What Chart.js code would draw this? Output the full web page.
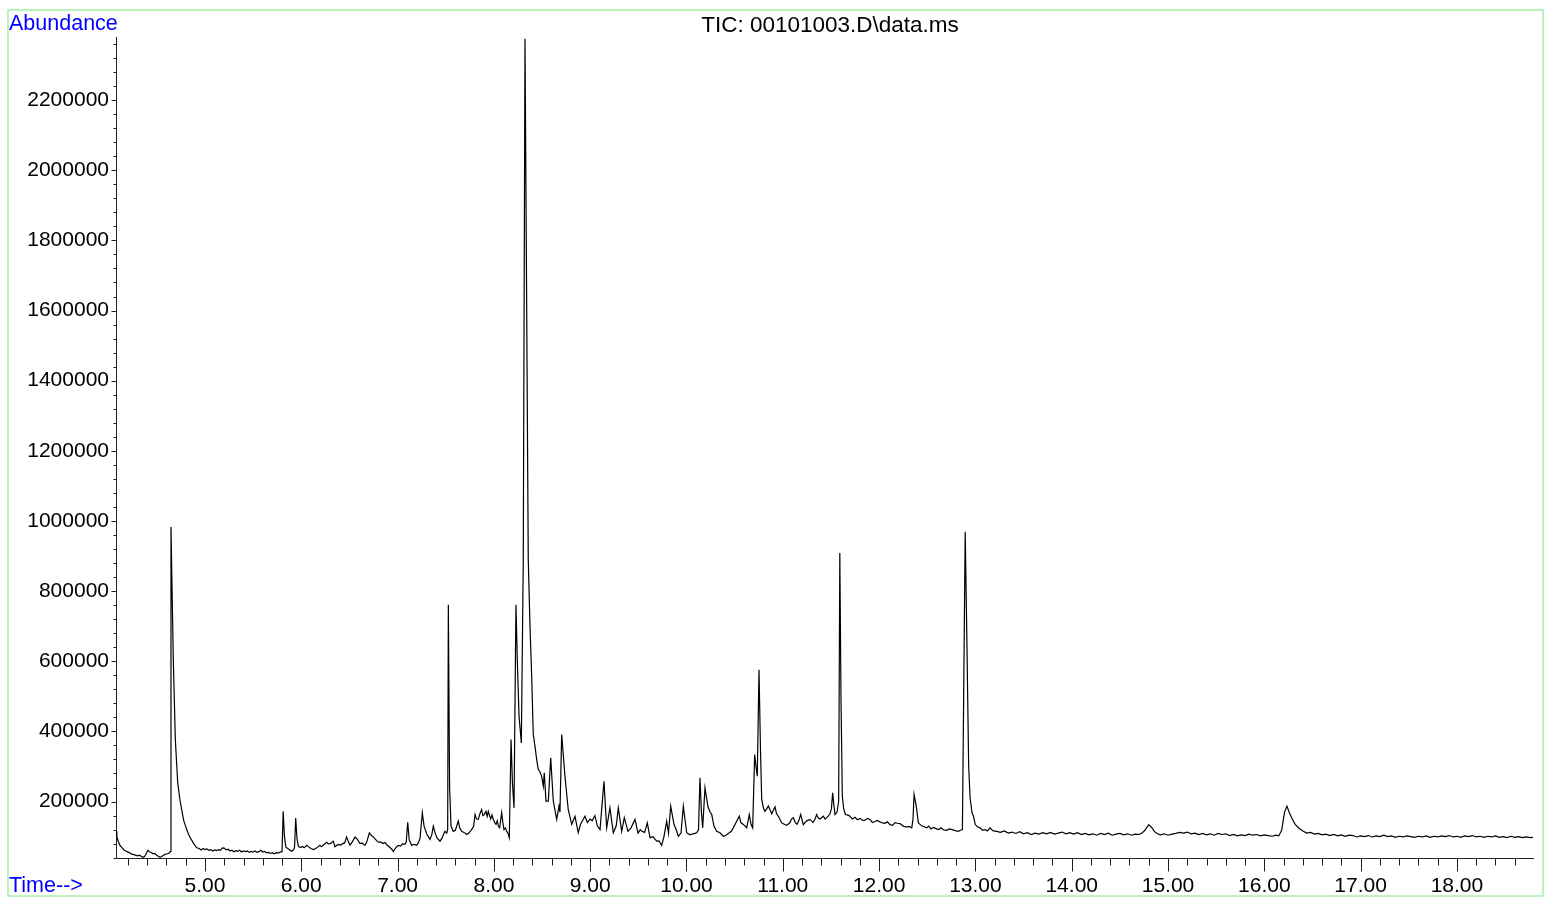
<!DOCTYPE html>
<html>
<head>
<meta charset="utf-8">
<script src="https://cdn.jsdelivr.net/npm/chart.js@4.4.1/dist/chart.umd.min.js"></script>
<style>
html,body{margin:0;padding:0;background:#fff;}
#wrap{position:relative;width:1551px;height:898px;}
</style>
</head>
<body>
<div id="wrap"><canvas id="c" width="1551" height="898"></canvas></div>
<script>
// ---- data (retention time in minutes, abundance) ----
const times = [
4.076,4.085,4.100,4.117,4.14,4.16,4.19,4.21,4.24,4.27,4.30,4.32,4.34,4.356,4.375,4.39,4.408,4.425,4.44,4.46,4.48,4.50,4.515,4.533,4.55,4.57,4.59,4.61,4.630,4.640,
4.647,4.654,4.671,4.692,4.717,4.74,4.758,4.78,4.810,4.84,4.878,4.914,4.94,
4.96,4.98,5.00,5.02,5.04,5.06,5.08,5.10,5.12,5.14,5.16,5.18,5.20,5.22,5.24,5.26,5.28,5.30,5.32,5.34,5.36,5.38,5.40,5.42,5.44,5.46,5.48,5.50,5.52,5.54,5.56,5.58,5.60,5.62,5.64,5.66,5.68,5.70,5.72,5.74,5.76,5.78,5.80,
5.812,5.825,5.84,5.86,5.88,5.90,5.92,5.930,5.942,5.955,5.97,5.99,
6.01,6.03,6.056,6.08,6.10,6.125,6.15,6.17,6.194,6.21,6.23,6.264,6.28,6.30,6.332,6.35,6.37,6.39,6.41,6.43,6.45,6.471,6.49,6.506,6.53,6.558,6.58,6.61,6.63,6.662,6.68,6.707,6.725,6.748,6.77,6.80,6.82,6.851,6.87,6.89,6.921,6.94,6.956,6.97,6.99,
7.01,7.03,7.05,7.077,7.09,7.105,7.12,7.146,7.17,7.198,7.215,7.233,7.257,7.275,7.302,7.32,7.336,7.355,7.371,7.39,7.41,7.440,7.46,7.475,7.492,7.510,7.520,7.527,7.540,7.555,7.578,7.60,7.630,7.645,7.665,7.69,7.717,7.74,7.769,7.79,7.804,7.82,7.838,7.855,7.873,7.885,7.897,7.918,7.93,7.942,7.955,7.967,7.98,7.994,
8.008,8.022,8.035,8.046,8.06,8.081,8.093,8.105,8.12,8.133,8.148,8.160,8.178,8.193,8.209,8.229,8.243,8.261,8.271,8.285,8.305,8.323,8.357,8.375,8.392,8.409,8.428,8.444,8.461,8.478,8.496,8.513,8.523,8.541,8.565,8.590,8.617,8.652,8.676,8.686,8.704,8.738,8.772,8.808,8.842,8.876,8.90,8.927,8.946,8.97,8.998,
9.02,9.049,9.075,9.102,9.143,9.171,9.205,9.240,9.27,9.292,9.327,9.354,9.392,9.424,9.465,9.497,9.52,9.538,9.565,9.593,9.621,9.652,9.690,9.714,9.742,9.766,9.794,9.813,9.836,9.870,9.895,9.915,9.943,9.967,
10.002,10.036,10.067,10.106,10.125,10.140,10.155,10.168,10.192,10.223,10.245,10.262,10.285,10.313,10.348,10.382,10.410,10.441,10.465,10.486,10.514,10.548,10.565,10.587,10.610,10.625,10.652,10.670,10.687,10.708,10.722,10.735,10.753,10.768,10.781,10.800,10.815,10.850,10.885,10.919,10.935,10.954,10.989,
11.015,11.041,11.075,11.09,11.109,11.13,11.148,11.165,11.186,11.213,11.230,11.248,11.282,11.314,11.335,11.352,11.370,11.386,11.421,11.44,11.459,11.475,11.490,11.505,11.518,11.530,11.542,11.563,11.580,11.592,11.604,11.618,11.632,11.650,11.67,11.698,11.72,11.750,11.775,11.802,11.83,11.854,11.88,11.906,11.93,11.957,11.98,
12.009,12.035,12.061,12.085,12.113,12.14,12.165,12.19,12.217,12.25,12.287,12.31,12.339,12.352,12.363,12.384,12.408,12.425,12.446,12.47,12.494,12.515,12.539,12.565,12.598,12.62,12.643,12.67,12.702,12.73,12.757,12.79,12.822,12.845,12.865,12.894,12.912,12.930,12.945,12.965,12.980,12.998,
13.02,13.048,13.075,13.100,13.125,13.152,13.18,13.221,13.26,13.30,13.34,13.38,13.42,13.46,13.50,13.54,13.58,13.62,13.66,13.70,13.74,13.78,13.82,13.86,13.90,13.94,13.98,
14.02,14.06,14.10,14.14,14.18,14.22,14.26,14.30,14.34,14.38,14.42,14.46,14.50,14.54,14.58,14.62,14.66,14.70,14.73,14.76,14.80,14.83,14.86,14.89,14.92,14.96,
15.00,15.04,15.08,15.12,15.16,15.20,15.24,15.28,15.32,15.36,15.40,15.44,15.48,15.52,15.56,15.60,15.64,15.68,15.72,15.76,15.80,15.84,15.88,15.92,15.96,
16.00,16.04,16.08,16.12,16.15,16.18,16.21,16.235,16.26,16.29,16.32,16.36,16.40,16.44,16.48,16.52,16.56,16.60,16.64,16.68,16.72,16.76,16.80,16.84,16.88,16.92,16.96,
17.00,17.04,17.08,17.12,17.16,17.20,17.24,17.28,17.32,17.36,17.40,17.44,17.48,17.52,17.56,17.60,17.64,17.68,17.72,17.76,17.80,17.84,17.88,17.92,17.96,
18.00,18.04,18.08,18.12,18.16,18.20,18.24,18.28,18.32,18.36,18.40,18.44,18.48,18.52,18.56,18.60,18.64,18.68,18.72,18.76,18.79
];
const abundance = [
115000,100000,86000,75000,68000,62000,57000,55000,50000,48000,45000,47000,43000,41000,44000,52000,61000,56000,55000,51000,52000,47000,44000,41000,43000,47000,50000,51000,53000,58000,
983000,870000,605000,377000,253000,205000,177000,145000,120000,100000,82000,68000,66000,
62000,66000,63000,65000,61000,63000,59000,62000,60000,63000,61000,68000,67000,62000,64000,59000,61000,57000,60000,58000,61000,56000,59000,57000,59000,55000,58000,56000,59000,55000,57000,61000,56000,58000,54000,55000,52000,54000,51000,54000,53000,56000,57000,
172000,100000,70000,66000,62000,58000,62000,70000,153000,95000,72000,69000,
72000,68000,75000,70000,66000,63000,66000,70000,75000,71000,76000,84000,79000,80000,87000,71000,75000,78000,76000,80000,82000,99000,85000,76000,85000,99000,93000,80000,82000,75000,85000,111000,104000,99000,92000,84000,85000,80000,83000,76000,69000,64000,57000,64000,71000,
75000,73000,79000,78000,85000,141000,92000,75000,78000,75000,82000,95000,168000,130000,108000,100000,92000,105000,130000,110000,96000,87000,95000,105000,115000,110000,120000,761000,240000,130000,115000,118000,144000,125000,115000,112000,106000,110000,120000,130000,163000,150000,149000,165000,177000,160000,162000,172000,158000,172000,160000,150000,162000,149000,
140000,135000,145000,130000,125000,168000,140000,120000,125000,115000,108000,97000,377000,250000,182000,761000,605000,443000,443000,367000,889000,2375000,889000,700000,560000,391000,355000,320000,291000,285000,272000,244000,282000,201000,201000,325000,201000,149000,187000,170000,391000,272000,177000,135000,158000,111000,135000,149000,158000,140000,150000,
145000,160000,130000,120000,258000,125000,182000,111000,130000,182000,115000,154000,115000,125000,149000,110000,120000,115000,112000,139000,97000,100000,87000,88000,75000,100000,144000,110000,187000,135000,118000,101000,110000,187000,
111000,105000,108000,111000,120000,268000,170000,125000,239000,185000,170000,163000,130000,115000,111000,101000,104000,110000,115000,125000,140000,158000,140000,135000,130000,125000,163000,135000,125000,334000,300000,272000,576000,350000,206000,180000,172000,187000,165000,185000,165000,158000,139000,
135000,132000,140000,150000,154000,140000,135000,145000,163000,134000,140000,145000,149000,140000,150000,163000,152000,150000,158000,150000,155000,160000,165000,180000,225000,190000,163000,170000,200000,909000,500000,215000,180000,163000,162000,158000,150000,155000,148000,152000,146000,147000,152000,149000,140000,143000,146000,
142000,139000,138000,142000,134000,132000,140000,138000,137000,130000,127000,129000,125000,150000,220000,190000,139000,135000,130000,128000,125000,130000,122000,126000,122000,120000,125000,119000,118000,122000,120000,117000,115000,118000,120000,969000,650000,300000,210000,168000,158000,135000,
128000,125000,118000,120000,116000,125000,117000,115000,112000,116000,110000,113000,109000,114000,108000,111000,106000,110000,107000,111000,108000,112000,107000,110000,113000,108000,111000,
107000,111000,106000,109000,105000,108000,104000,109000,106000,110000,104000,107000,109000,105000,108000,104000,107000,106000,110000,118000,134000,126000,114000,108000,105000,108000,
104000,107000,109000,112000,110000,113000,108000,110000,106000,109000,105000,108000,104000,109000,106000,108000,103000,106000,102000,105000,103000,107000,104000,106000,102000,
105000,103000,101000,104000,102000,118000,170000,187000,168000,150000,135000,124000,116000,110000,112000,107000,109000,105000,107000,103000,106000,102000,105000,101000,104000,103000,99000,
102000,100000,103000,99000,102000,100000,104000,100000,102000,98000,101000,99000,102000,100000,98000,101000,99000,102000,98000,101000,99000,102000,100000,103000,99000,
101000,98000,102000,100000,103000,99000,101000,98000,101000,99000,102000,98000,100000,97000,101000,98000,100000,97000,99000,97000,98000
];
const xTickLabels = [5,6,7,8,9,10,11,12,13,14,15,16,17,18];
const yTickLabels = [200000,400000,600000,800000,1000000,1200000,1400000,1600000,1800000,2000000,2200000];
const chartTitle = 'TIC: 00101003.D\\data.ms';
const yAxisTitle = 'Abundance';
const xAxisTitle = 'Time-->';

const FONT = '"Liberation Sans", Arial, sans-serif';

const decor = {
  id: 'decor',
  afterDraw(chart) {
    const ctx = chart.ctx;
    const xs = chart.scales.x, ys = chart.scales.y;
    ctx.save();
    // frame
    ctx.strokeStyle = '#a6f0a6';
    ctx.lineWidth = 1.5;
    ctx.strokeRect(8, 10, 1535, 886);
    // ticks
    ctx.strokeStyle = '#222';
    ctx.lineWidth = 1;
    const xb = Math.round(xs.top) + 0.5;
    ctx.beginPath();
    for (let k = 21; k <= 93; k++) {
      const v = k / 5;
      if (v < xs.min || v > xs.max) continue;
      const px = Math.round(xs.getPixelForValue(v)) + 0.5;
      const major = (k % 5 === 0);
      ctx.moveTo(px, xb);
      ctx.lineTo(px, xb + (major ? 13 : 7));
    }
    const yl = Math.round(ys.right) + 0.5;
    for (let k = 1; k <= 59; k++) {
      const v = k * 40000;
      if (v < ys.min || v > ys.max) continue;
      const py = Math.round(ys.getPixelForValue(v)) + 0.5;
      const major = (k % 5 === 0);
      ctx.moveTo(yl, py);
      ctx.lineTo(yl - (major ? 5 : 3), py);
    }
    ctx.stroke();
    // texts
    ctx.font = '21.5px ' + FONT;
    ctx.textBaseline = 'alphabetic';
    ctx.fillStyle = '#0000ff';
    ctx.textAlign = 'left';
    ctx.fillText(yAxisTitle, 9, 29.5);
    ctx.fillText(xAxisTitle, 9, 892);
    ctx.fillStyle = '#000';
    ctx.textAlign = 'center';
    ctx.font = '22.5px ' + FONT;
    ctx.fillText(chartTitle, 830, 31.5);
    ctx.restore();
  }
};

new Chart(document.getElementById('c'), {
  type: 'line',
  data: {
    datasets: [{
      data: times.map((t, i) => ({x: t, y: abundance[i]})),
      borderColor: '#000',
      borderWidth: 1.2,
      pointRadius: 0,
      tension: 0,
      fill: false
    }]
  },
  options: {
    responsive: false,
    animation: false,
    devicePixelRatio: 1,
    parsing: false,
    layout: {padding: {left: 0, right: 18, top: 37, bottom: 0}},
    plugins: {legend: {display: false}, tooltip: {enabled: false}, title: {display: false}},
    scales: {
      x: {
        type: 'linear',
        min: 4.076,
        max: 18.79,
        grid: {display: false, drawTicks: false},
        border: {display: true, color: '#222', width: 1},
        afterBuildTicks: s => { s.ticks = xTickLabels.map(v => ({value: v})); },
        afterFit: s => { s.height = 40; },
        ticks: {
          autoSkip: false, maxRotation: 0, padding: 16, color: '#000',
          font: {family: FONT, size: 21},
          callback: v => Number(v).toFixed(2)
        }
      },
      y: {
        type: 'linear',
        min: 39000,
        max: 2380000,
        grid: {display: false, drawTicks: false},
        border: {display: true, color: '#222', width: 1},
        afterBuildTicks: s => { s.ticks = yTickLabels.map(v => ({value: v})); },
        afterFit: s => { s.width = 116; },
        ticks: {
          autoSkip: false, padding: 7, color: '#000',
          font: {family: FONT, size: 21},
          callback: v => String(v)
        }
      }
    }
  },
  plugins: [decor]
});
</script>
</body>
</html>
